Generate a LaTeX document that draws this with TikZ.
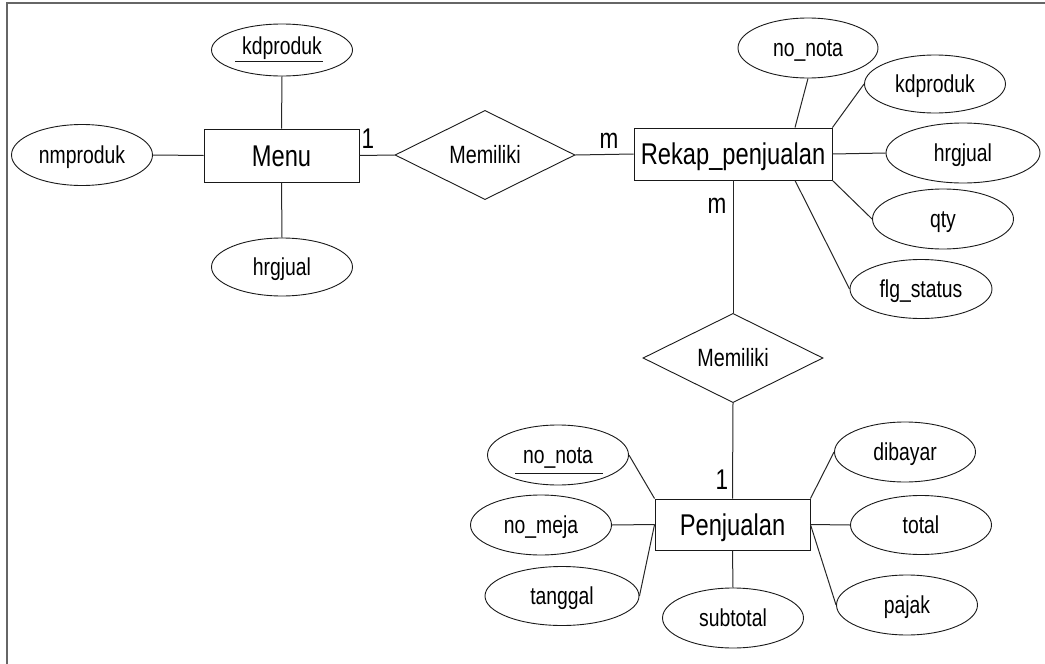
\documentclass[tikz,border=0pt]{standalone}
\usepackage{fontspec}
\newfontfamily\erfont[FakeStretch=0.79]{Liberation Sans}
\usetikzlibrary{shapes.geometric,calc}
\tikzset{
  ln/.style={line width=1pt, draw=black!85},
  attr/.style={ellipse, draw=black!90, line width=0.9pt, inner sep=0pt,
    font=\erfont\fontsize{24.5}{27}\selectfont, text height=17.5pt, text depth=0pt},
  ent/.style={rectangle, draw=black!90, line width=0.9pt, inner sep=0pt,
    font=\erfont\fontsize{30}{33}\selectfont, text height=21.5pt, text depth=0pt},
  rel/.style={diamond, draw=black!90, line width=0.9pt, inner sep=0pt,
    font=\erfont\fontsize{25}{28}\selectfont, text height=17.9pt, text depth=0pt},
  card/.style={inner sep=0pt, font=\erfont\fontsize{28.5}{30}\selectfont},
  ul/.style={line width=1pt, draw=black!90},
  frameline/.style={line width=1.5pt, draw=black!60}
}
\begin{document}
\begin{tikzpicture}[x=1pt,y=-1pt]
\useasboundingbox (0,0) rectangle (1045,664);
\draw[frameline] (7,664) -- (7,3) -- (1045,3);

% entities
\node[ent, minimum width=155pt, minimum height=53pt] (menu) at (281.5,155.5) {Menu};
\node[ent, minimum width=198pt, minimum height=52pt] (rekap) at (733,154) {Rekap\_penjualan};
\node[ent, minimum width=155pt, minimum height=51pt] (penj) at (732.5,524.5) {Penjualan};

% relationships
\node[rel, minimum width=180pt, minimum height=83pt] (rel1) at (485,155) {Memiliki};
\node[rel, minimum width=180pt, minimum height=82pt] (rel2) at (733,358) {Memiliki};

% Menu attributes
\node[attr, minimum width=141pt, minimum height=52pt] (kd1) at (282,50) {\raisebox{4pt}{kdproduk}};
\node[attr, minimum width=141pt, minimum height=61pt] (nm) at (82,155) {nmproduk};
\node[attr, minimum width=141pt, minimum height=58pt] (hj1) at (282,267) {hrgjual};

% Rekap attributes
\node[attr, minimum width=140pt, minimum height=60pt] (nn1) at (808,48) {no\_nota};
\node[attr, minimum width=141pt, minimum height=58pt] (kd2) at (935,84) {kdproduk};
\node[attr, minimum width=154pt, minimum height=60pt] (hj2) at (963,153) {hrgjual};
\node[attr, minimum width=141pt, minimum height=60pt] (qty) at (943,219) {qty};
\node[attr, minimum width=142pt, minimum height=59pt] (fs) at (921,289) {flg\_status};

% Penjualan attributes
\node[attr, minimum width=141pt, minimum height=60pt] (nn2) at (558,455) {no\_nota};
\node[attr, minimum width=141pt, minimum height=60pt] (nmj) at (541,525) {no\_meja};
\node[attr, minimum width=154pt, minimum height=59pt] (tg) at (562,596) {tanggal};
\node[attr, minimum width=141pt, minimum height=60pt] (st) at (733,618) {subtotal};
\node[attr, minimum width=141pt, minimum height=60pt] (db) at (905,452) {dibayar};
\node[attr, minimum width=141pt, minimum height=59pt] (tot) at (921,525) {total};
\node[attr, minimum width=141pt, minimum height=60pt] (pj) at (907,605) {pajak};

% key underlines
\draw[ul] ($(kd1.center)+(-47,11)$) -- ($(kd1.center)+(41,11)$);
\draw[ul] ($(nn2.center)+(-43,18)$) -- ($(nn2.center)+(45,18)$);

% cardinalities
\node[card] (c1) at (368,139) {1};
\node[card] (c2) at (609,141) {m};
\node[card] (c3) at (717,206) {m};
\node[card] (c4) at (722,480) {1};

% connectors
\draw[ln] (kd1.south) -- (menu.north);
\draw[ln] (nm.east) -- (menu.west);
\draw[ln] (hj1.north) -- (menu.south);
\draw[ln] (menu.east) -- (rel1.west);
\draw[ln] (rel1.east) -- (rekap.west);

\draw[ln] ([xshift=62pt]rekap.north) -- (nn1.south);
\draw[ln] (rekap.north east) -- (kd2.west);
\draw[ln] (rekap.east) -- (hj2.west);
\draw[ln] (rekap.south east) -- (qty.west);
\draw[ln] ([xshift=62pt]rekap.south) -- (fs.west);
\draw[ln] (rekap.south) -- (rel2.north);
\draw[ln] (rel2.south) -- (penj.north);

\draw[ln] (nn2.east) -- (penj.north west);
\draw[ln] (nmj.east) -- (penj.west);
\draw[ln] (tg.east) -- (penj.west);
\draw[ln] (penj.south) -- (st.north);
\draw[ln] (penj.north east) -- (db.west);
\draw[ln] (penj.east) -- (tot.west);
\draw[ln] (penj.east) -- (pj.west);
\end{tikzpicture}
\end{document}
